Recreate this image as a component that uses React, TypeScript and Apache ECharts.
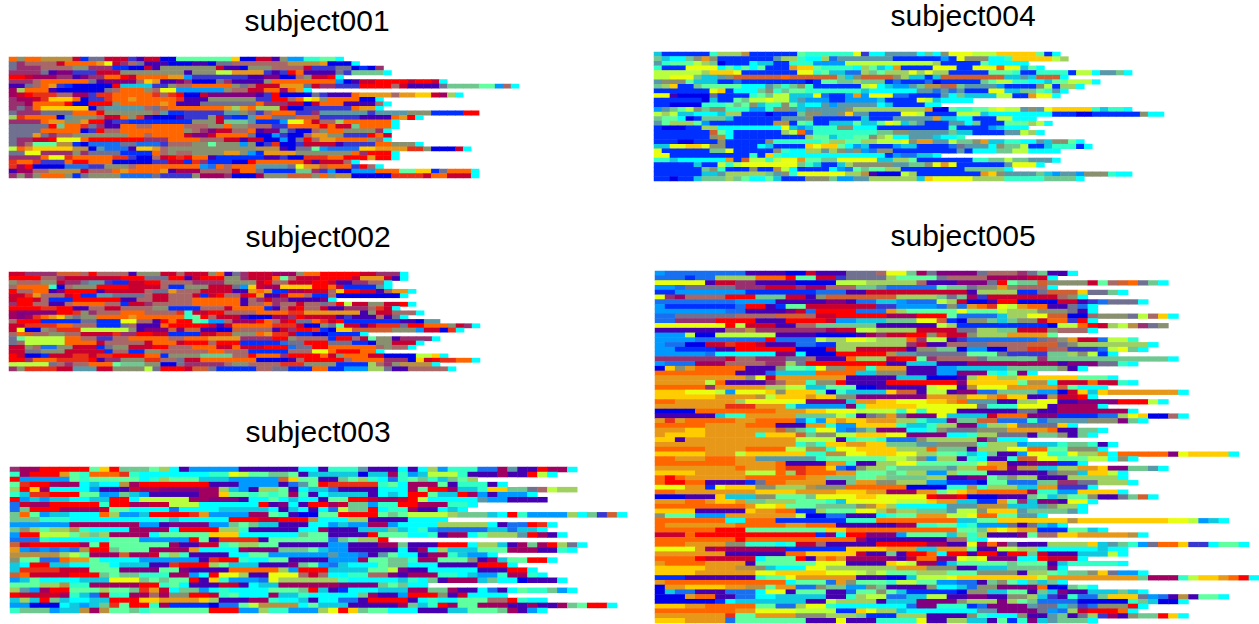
import React, { useEffect, useRef } from "react";
import * as echarts from "echarts";

const colorKeys = "bBpvmMcrRoOagylLntCsSkGxhTeEi";
const colorValues = [
  "#0030ff", "#0000e8", "#4400b0", "#800080", "#983070", "#a00060", "#c80030", "#ff0000", "#e83018",
  "#ff6600", "#d06030", "#e89818", "#ffcc00", "#e8ff10", "#b8ff40", "#a0d060", "#60ffa0", "#30ffc8",
  "#00ffff", "#0099ff", "#1870f0", "#10c8e0", "#889070", "#707090", "#a86868", "#b89040", "#5898a8",
  "#70c890", "#3838d0",
];

const subject001 = [
  "oGooTTTTcb xxcccipccB BnnnnnnngB BccpGssttn nC",
  "xmhhhhcooo oaycmhxppp BBBppBxxhh hhhhhTTTTa BBBC",
  "xmmmhhhhGG mmmbbBBcpG GGGGGGcppB GGGhhhhcii ixxBbBm",
  "mmmmxpvvii icccGGGGGG GGpGGGllaa aaipiropp ppxiEC",
  "rrcMMMmmpv mmoorcoooo aasiiiiiii ppvvBBhGccrC",
  "mmmhoooooo xpvvvvhgap pvmBBBxmpp ppGooooooo osBpccrrrr crrcC",
  "ppxhoaibBB BBBrkkkkii GhhoooooGx hcccaaaxcm miiirrrrhc ppppxEEEEn nshC",
  "MLooopBBBB BBxhoooGhy yssssssGhh ccooMoaC",
  "McrRRRhhMM iRRoooooRh RrBBcvvvvv vpirBBBBxi pppoaaaaha aggcMLC",
  "mMMcRgggoB iiRooaoooo oRpppGGGGG GiirrhoygG ooooBBC",
  "mmMoooorBB rrrGoooooa opppxxxxxx xommmccBco oopppphC",
  "mxmogggggg BxeeeeehxO oooooooaLa oLLLcBBiii iiioaaC",
  "xmmmxxxxoo orGGGGGGhe bbiiiiieeG xihoooiime eeeeeieeee GGGbbbbrr",
  "LRooooBeGG GhccoGRpBB BpiiiGcibb eooxxxOOOi iiiippppoa rC",
  "mmmmoaaGGa rrpiibbbbb bbbGGGcEEE ebbbsyyoch hLoooooorC",
  "xxxxxrEooR xmppoohhoo oohhhGGoGG hhhiioooor occEooooC",
  "xxxxoooooB irhhoooooo ooGhmvcchh opvveiBBhG ooGGGGmC",
  "xxxaxmhhGG GGGGGoohoo oocvvcoooo xBBsiBBhaa GGiiiroc",
  "xmmccryyyo rrrrrrrmmm oooohhhccp ccBBsBxrha aooooGhC",
  "xmhnnnTTbB SSSSxxSSSi hhhGGnGGGs GBiRBBiccc cpiiiiooGG GC",
  "loagggggTT BeSSSpggah GGGGGGGGGG GTTTpBxxns SSSSggaaaa RRGBBBcC",
  "xxyymmmmGm xxxxbbbboh GhhGGGGaaG sbaaaaGGGG GGGomrrrC",
  "mmmmoyyRoo oooRRiBBhc rRroopbbbb bbppiBBRRR oorrrarrC",
  "RooRiiiorr oooBBBBBii ccbRmbbbBB roooooocpc cchC",
  "RMrBBBBSSS iiGGGhoooo oooosSohoo oeeeexyaaO oooirhC",
  "pMMhhTTTTc hhhoaooooa pMMMhhhhco oxbbbbEEmi sBBsssooon nggbxoooC",
  "mGmGoooGbx GGGGSSSSxi iiiGMMMmBB BMGGGOOOGo GTTBBBBBRR RRcoocccC",
];
const lengths001 = [42,44,47,48,42,55,64,38,57,47,48,47,59,52,49,49,48,48,48,52,58,49,49,44,47,59,59];

const subject002 = [
  "ccmmmmOOOh rhhhhpGGGc chcccGopxm cccMMMGoor rrrrccmmmC",
  "rrrrhhmccc ccccrrrxxx rrpcrrrGGm ccconhcccr rrrcaaacpC",
  "GhhhGGcmmx eeibbccrrh hhhmmmmGGG Gcrhhcccrr cppmmhhC",
  "hooootBhGG Grrrrcccch bbGGGcccxs gcMMggggrr ocbbbbeC",
  "rhhoopvrrr rpccccchxx ahhhccccpp aoabbMMccc hgrrccphaa C",
  "ccRahhhcrb beexxxxhcc hhhcbcrhhc rappcoohbb hBBBBBBBBC",
  "crrchbbbrr rrrrpphhcc hhhoooooop hmcmmppppv C",
  "mrrhhpphoo oohhbccmhh hhhoooooop hhomhhchhx hrlccGGccr C",
  "rrrrRRrrpp hhcchhhhGG bbbbhhhcoo oobphcrhhc ppmmmhRcC",
  "MvvvvvrrRG mhhhooohhh hRtccrrhhh hooooRRaaa aaaapGcchh hC",
  "MvMRoagGxG Gooooaoooo ootnrhcccp BBBMMmrccc cpippphpxC",
  "hrrrbbbbbx xbbbyyhhpr orrntsshMM MrohcrxxoR crbbbbbbbp pBee",
  "ccRRRRoohh hbbbxhpppo rrrrrcpcoo oooRRRcBBG xnccpcRRRx rroooGcmC",
  "cyBBGhRRRl lllllGpvvv OvOOppBBOh hhhpcmrrRb BggOOOOOGG GsccBRbrC",
  "hoOhhGGhhc cccRmmrrcc bbbbccRRGG GoaRRcbbBB bbbbC",
  "xnlllllooh hiihhooooo hhoooaaaam mmmrrGhhhh brrhcnGGpmC",
  "xhlllllooo ochhhhhcoo ocrrrhrrrb bbbbSxxrrr xxxbbBGGcC",
  "ccGhSSGGcc cbxGGcccrr hhhoooccoc ccrrrSxxrr oooooohGhh C",
  "ccxxGGGccc ccbhhbbGGh hhhhhoohhh bbbbbhhhyy orrrooooCC",
  "rcBBbcccRR cRRrrrroob GGGGEEEEhh rooomrrrro cGoooccBBB BllggC",
  "rrmoooRRRR rpmmGGGRRh hxccoooooo oBBBBphrrr rrhoooommm BgcrRRoC",
  "lllllxhmhh ooonEEEGGB BxmmmmmhGG hhhhRRRGGG GbbbbLhmGT C",
  "mGRRRRccee eccGGGGlxr rrcOOxbbbb bhhxxbbboo bbsssLLxpp hhhC",
];
const lengths002 = [50,50,48,48,51,50,41,51,49,52,50,54,59,57,45,54,52,51,47,55,59,54,56];

const subject003 = [
  "mMMrrrrrng rEEEnLCpss sssppppppC CptttepppC pCLstttSSM epprMMC",
  "tMrrrantoo oRtCCCCCCC ttylnnEEnp kkkkkBkkMt skllltpppM pprlC",
  "rsssssntnn nnnCtLnnnk kksssssOgn nppEnLtCSt nEtkEnL",
  "nRrrMMMCkC CTMrrrrrrr pppsssspSe nrRRRRRtnC MMMnptttpC",
  "LrgMCCCCsp ppcMMvvvvM MLkspLLnpC kkSppppCCC MnrrMkktgg EExhlLL",
  "tkRRrrrnns sEkspppppM MgnntntnMt pCkkkkpCkC rrnkkrMsps ssC",
  "rskskkCCkk rrClllllMM vvvpCCnCkC CpnnrrcMMc rlCCCCCess pppp",
  "ScMMrrrrrt rrMMcclllC CCCCCrpvCp rrMcEEsttr rMMMttC",
  "SErrrMMMMc nnCCCCSCCC CkkkkkCpkC pCSlEErCtt MppCkC",
  "EonskkCCCo LsskrrrrRa ssssMMntpB BnnrrrrnEn llllLEEEkC rtssssLCEi OC",
  "EEEtttCCCC CCCCCtkCCC CCrrrccrrr TCCCLLpppp CCCC",
  "ssssssMMMM MMMsspvvvv ssEnEkkppp CCskssMMsC CCCLLLLLCp SSrRC",
  "EGLnLLTtCC CCMMMMCrrr rLLtpppppC CMpppkkkEk CtsSSSSSkk SkkC",
  "srrlllnLEL MMMMCnnnnn gggCCCCCCE nnpppprnnn CCtpMMCnLL LerMpC",
  "SSStCCCCCC nnnsssssrn pRRRRpnnnn nnSEnLLr",
  "OcrrrrrMnr nnnnnnMppc ctnLLnnppp ppsspppMME ppprrrCLLk pMEMrLxC",
  "asSsSsSTrr EnnnMMMMaC CCCMvvvEEE nksspppppC pMCLkkknnn MMMpptC",
  "TTTTTLlnMM MOMMcnLtpp ppCCnnssss ssessSpenC CpMMtkssC",
  "GnnSSoaanC CCCssssssp RrrtCCnnpp ppsssMnnEE tMMnnnGpMk nnrrC",
  "kCrrkkCCnn CkkkppRrrr LnkkkpppvE nsSkCCCnEE CCCpppprrr C",
  "kRRRRcccnn nvvvvnnvpp ppoooooLsr rrkkkknnlv ppCCCCCppp rrC",
  "OoccccrrrE nEEtttMMsC ryyLppyyyh chCCtthhvp MMMttCksst MMtC",
  "sknCCCCkkk yyyEnEnnrp gtsssSyLLL LLLtCCCCCk tCEpMMMkEC CBpC",
  "nnnLLTttMM MMMrrtnCpp pccpCkkMMM MMMvvvvEnE CrC",
  "LesMrrnnnL nnERacCEEs CtCCCCnnnE rkpbCCCkkk MMEEMppCSp CnttEsC",
  "rccccMtkSc ttMMhMGGrr ctnCCCMkkt CCCCCEMpps rrrGpcCCCC",
  "kLkrEkCCkk rrrggaaaag LpppMMtCCk pCCSSprrrr pCtCCnnnhh rtCC",
  "ssBBBCkskE RnrrtMbbbb BSSnlTTTTC nkkkpppppM EktrMnnMMM ppMppMEnrC",
  "tEEEskkTMT nnEtnnnnnn rrrssLttss sLyrgEnnCC CpppkknnnE MpspMnrrnC",
];
const lengths003 = [57,55,47,50,57,53,54,47,46,62,44,55,54,56,38,58,57,49,55,51,53,54,56,42,57,50,54,61,54];

const subject004 = [
  "kbbbbbbtLL LTbbbbbbnt tttttyiCCe eeeCECGyyy lllgggggnb C",
  "EkCCEGaGbb bbbbbeLLtC CLSeeeeeee bbbbbbsbyG GGCCtggggg lL",
  "etnnnlLEBb bbCkkbbttt ssssllllll lllllLbbbb bnCCCCC",
  "tbbbyyyyCn CnCnbbbagg nttttCLnkC abbbbyyybb yyyoyyknC",
  "llllllLggg ybbbbbbbyy tnkkSSLEnL LLyLyLLbbb bbnnntbbtt ttbllCeeEC",
  "llyyyEkkeG OOOOOOoOOO OOOEkGOOOO GLkkbkOOOO OOOOkkekOO OC",
  "eGGGnkkkbb SbbbbbbbbB bnnEELEEEb SbbbSBbbbb bEnllttCCk nnlllC",
  "ELgbbEnnnn nCCCeEtEGt bbbbbblyCk sseETThOEe eeesbbbbGl bLLC",
  "bbbbbbbygb CCCEGtEnnt ttttttkCCC CCCeeSeSeb bbyykkEEnt eC",
  "yypBBBBxbb bbtnEllkkk ySbbsasyyy SSbbbbeCEk kkkllbbayy C",
  "bbbbbbBkbb nEllyllkes ssbbsssskb bbbylkCCCC",
  "bbBBBBtttn EnGkttGnkC CeseeeeeCk bbbbCC",
  "seEnlGEGGt ttsstGGeke eeeeGLLLLL LLLLaBBntt nnlylleGey gggggtkttC",
  "lLlkkCCCkL LbbbBbbbEG GeeGgeebbb byylbbbbll lkCCCCCCCC bbbBBbbbbb bGCC",
  "EnnCBbEEEk bbbbbbeeeG bbbbbbkbbb eeeeeakkCC bbbllCCC",
  "enLLLnsbbb bbbbbTTbnt bbkkknkkny lkEebbbeeC EbbbnnnLlC",
  "bBBBbbLLCC CCCCCCyksk tttGGCCCbb bbbbbbbtbb bbskCCC",
  "bbbbbbbOnC bbbbbbLloS ttttttttEE GGeeeeeEkk bbbbeelLC",
  "bbbbbbbGTC bbbbbbbbbL nnkttnnGLl CCeeekCCsk nnnEEEnnt",
  "bbbBBbbbGb bbbbGttttt tnLLnnLLll lyGaaeelEE GakkttCCek GGnC",
  "kkyyggyGGb bbbCkbbbbg yggnCskbbb skkbbbbSxe eeCGEElbbk tttbLyC",
  "ybbbbbbEEy bbbbbGtCCL LeLGeGsSGG bbbbbbbbeb CCCEEllCCC eeeC",
  "yybbbbbbbb bbtbgtCCCC CCCCCCCCCb sSSkkC",
  "ttkCCCCCCa bOlltlyyan nEEyyyyykk LLnbbbbbbb ttEElEEeee eC",
  "bbbbbkbblt lyyyyyyyEt kbbkLGGGGG eeEEGyaybb bbbbeyC",
  "bbbbbbEGtb bbGbbTlCbb bbCsSnEnnL LbbbbbbbbE EEEEEC",
  "bbbbbbkkeL LLLLEeGtyy yyyyLLTpBB BlLbbbbbbb bagGeeeeEk seesGGGtCC",
  "bbBbbkEEEL EnCCnkbbbG GGEsseeLLL LLLkgyyyyy LLLLtttttE EEEtC",
];
const lengths004 = [51,52,47,49,60,52,56,54,52,51,40,36,60,64,48,50,47,49,39,54,55,51,36,51,49,45,60,54];

const subject005 = [
  "sSSSSSSSSp pppBBcpppx xxhyyEMxvv vvxhhhmxEp pC",
  "SSSbSSLLLL ooornnccix xxxLnnnnxh hhhMMMMccC",
  "yyyyypccmm ppppBBBBll lLLLLLhppp vvvxrnEEOG GGGcnhOoxE C",
  "ssSxxxxxmm mcccmMMhhh EEeSSSSSnE ExGGaGhhhC",
  "bbsssssssb bbbbbbSSSp pccccccccc cpLLLLbbxO OOgxxEC",
  "ymMhhhhrrr EEEccpGOOO OOOOLLLLEx EMiccccccc hGC",
  "SSSSSSSSss sspppppvvp SSkksSSSlL cBBprrBBBB ccpiSxxxC",
  "sbbbbbbbSr rpbnnccccc cciissssSG SaoRylaoop pxSC",
  "sssssssSSp pppvcSrrrr SSSaLnnnnn ynnnlLLLGG GxpC",
  "SSxxxxxxhh hhOOOhccrr rrrMMMrrrn SSSSkLLyyO OBBhGGGxlh gC",
  "SSmmmmrrrr ppprrrrcss kkkEEEyyOb BGGEkEGGco oirrC",
  "yyyyyyyrlc ccpphhEEEE EEpppppplL bbbbbbbbbB llorcLlTmx G",
  "ppppppphhT mmmmmmmMcc llLLLLcccc xxLLEEcccG hhhhhMSsC",
  "ssslBBllll llppppBBBB pMmccrrGRc cGLLLaaaaa cccBBLLlln",
  "ssssSSSSSS SrSSSSlLLy ylLLLomllp iSSSSSSSxh GaccSlt",
  "sSSBBccRrr cpppSSbbLL LLLLLmcpph hxxhhhhOOO xGLC",
  "ssbbbbpprr rrrrBBBcLL cccccpGGEE BssBBhhRRh hiiiSlyEC",
  "sssssSCCCC CCvvCBBBrr rrrTeexxxx xnnnxiiiiE ELGlbiC",
  "mmmmmmmchh mmmxxhpppo LLLcrrnmhh hhxEEEEEmE EC",
  "sSSSMMMhhh hmmLxrrrrr rrrppkkkpp pMMMMMMMMM pvvvxxtC",
  "BgGaooooop ppGnntyGGo otaaapppss kkkkkEEEEE GpEtC",
  "oooooooopp pSkkkkoooo kkGGGpppss vvvtCnvvvv kSpppppaRC",
  "aaaaaaaaaG ycaaaaaaap ppppkkkBBB pLggLLgggg ggnnntCC",
  "aaaaaloppp pmhaatGGrp ppprrrrrrr vgggggnTTC cccoccttC",
  "ooooomaaaa aLLllkknnn BBppppplyyp TyyyaaaaaO nCC",
  "gggyyylsyy ygGgggnBtk kkkgOOpllp vvSSEEEEss BcgkgaC",
  "ggggggaaaa TlgggaggGG vvvvvvvaaa TggaoggppT ccrrrgC",
  "ooaaaaaaLy yyyyyvvvvk aaggyyygga oeeeppLLyy ppvvvvrrrl LC",
  "aaaaaaaRRR aaatsssssv tgggggyyyy yyxtttyyyp MMMMMMMMvv MkpLiiC",
  "BBBBoooooo ooaaaggyyy lllltytyyy ppppppxxpp MMMMMMMLLl iiC",
  "ppppppktta aaaaEEEEln pxGaxvvvyk kkkcooovvv bbbbSSLygB BhkC",
  "aRaoooooaa ooooSCsgag gaaaLLtkkv EEOOSSStSe eeeGGGvEEE LC",
  "oooooaaaao oopppaatss ggggtkktLL vvkLLgxxxx ggGGGtyC",
  "aaaggaaaaa aaOGEtyysS eEvvvCCtGx xxGGGaaaao ppEC",
  "aggggaaaaa tgggOEGGll gggyyvvvvC CtLLxxxpEE GpEC",
  "ggpaaaaaaa aaaallllpt nntSSSGLLL LLvxCCktee EEEELpC",
  "aaaaaaaaaa aaaatEtgga aggEEEeeGG GGtLLLskkk tEEtpppnEE EC",
  "oooooaaaao ooollTTtyy ggggLLLoEE EpLLLyyoon nGGGtC",
  "gggggaaalg gggggttTTy ygggyyLLnn tkCEppsyyt tyLLaCoooo ovyggggtC",
  "ooaaaoooaa eeeeeetnnn nnnllLGsLL ptCpptOOyy nnnllCGGnp C",
  "ooooooooaa aaoppppaat ppLLyynnnn nnlaappvvv bbtCLCbtCC C",
  "aaaaaaaaoa aaoRRoogSb GLLnEEEEEe LLooavTTkk LLaagvvEEe sspppC",
  "ggggaaaaal lloLRoooaa nnnEnLLssL nnnppppppx GGkgglppck GOpkkC",
  "oroaaaaaao oooooaaEEE nnLEEEELLp pvvnEGLLpp pLLLLLLEEE nsxC",
  "orrooppppb xooaaaappE aaGGLLLssb bbBnnSSSEE mmxxLLLLEE C",
  "yyyaabyggg GGLLLTGGGo oooooBBBBt tTtLLLkkaa iiiSpkkC",
  "ooaaaaaaaa ggggaaaagg gaaMMMaanl gaoooooMtt ssggggtaCC",
  "BBBpppgkkk GGnnnEyyyy ggyyyyyrcc rBBBpppEnk EnnGppxEOO alyyyiC",
  "aaaooaggaE ELLLnnntky yyyylllgaa kkbbanmkvv pyyyyynnnp tC",
  "oooooooooa yygnnnEEEE GTgLCCCCCe eeTTTkkkeG LLLLsskSrg nC",
  "ggggpppppg aaoobbLnnn yyLTLLEEEe llGgggeEEE EeeLskgsC",
  "Gnnnsssaaa aaaalBBSSp ppCtnnaaal lyoonneeGG eeaaEGLLLL lLkC",
  "oooooooCCo oobbbbbbbt ttoooooooo kknngggggg gTgggggggg gyylskEaaa C",
  "oaaaaaaaoo oooaaooopp ppppMMttnn CtsssxpxksC",
  "oooooorrrn nnnnnnnggo oooooooooo nnEgygaabb bnnkpC",
  "cccorrrrrr rrrrrrbvCr rvvvsnnnnk LtLpppvnhh ggaaaaaTTx TkkkkkkLnC",
  "ooooooooro oooooooooo Mpppppppph htaaGggaC",
  "oooaaaaGGt ttCtcchppp pprrrrrMMp pyMoMxpppL LLLgkeEtsx oogiiCnC",
  "yyyyaMcMMM MMMbbbbbbg gggaaakkaa anppllLLCC CCCCkCCaaa aaaaggyC",
  "aaaaaaappp pppooggggg cppEprroCr rprrprrEcp ppkkkllkkC",
  "oooorccccc CnnnrpaoaM MMMvpcoovv ylyvvvCCrc cccrrrrOOO yylC",
  "aooooaaaap nnnnnnyyyp pppgylMMbk nnnnnEnnnp ktttttEEnp MMpC",
  "gggggaaaTT GkCCCyyLLL LLLLaaaGGG ppkkkEEEEv MpOgggpnpO aaaC",
  "ggggaaaaaa yygggggyyy lLlnnnLLLn nnGGGGpLLn tEEGgxsssi iirraaagTC",
  "bbbppppppp tnnyaaaaaa pppBBkllly ggggggggla aaaaaaaaEM MMtlggaorC",
  "aooooooooo oooCnnnSaG nnntllnnss SSpEGnCEkE ExtvxxEkcaC",
  "BaaggggaaT TnaaSSGEEs sGEppppGCC kSGGvvvvoB BEnnkC",
  "BkSSpppSSS CyypnnnppS nnGnkbbbbb BGGkknnpEk vppkkkEkpT TrnkC",
  "BBBaooppSS CCkkkkkppt LllSSkkllp pvvppGGLki ptSSEgggxs SpTpnC",
  "BBBBBBbCkk kkkkkpplLL LLpkkkvvvv GLLLvLnESS SSBBBBBtEk BBBBCC",
  "gggaaooooo nnSSLyytCC CCCCCSvvtt tbSvvvvexx keiSGGGrrr CC",
  "ooooooooaa yyyyllllbb gyLLkCCCCC CCeevvvvxs SLcrrroopp BBC",
  "aaaaaaaRnn aaaaGGGLLL EbbbLLLppp pGtCCCGppe EpxLiMpGEE rgkppC",
  "gggaaaaSnn nnnnnpppyp ppttttyppL Lkkpnbtvke EEEEnLbpxM EtnC",
];
const lengths005 = [
  42,40,51,40,47,43,49,44,44,52,44,51,44,40,48,50,49,46,52,48,43,38,46,48,45,53,44,51,45,48,53,49,42,45,44,37,46,45,
  58,48,43,51,47,47,48,44,47,50,44,43,43,39,57,41,45,49,33,59,47,47,43,47,41,49,60,41,44,49,57,53,49,48,53,44,
];

const columnCounts = [64, 59, 62, 64, 60];
const titles = ["subject001", "subject002", "subject003", "subject004", "subject005"];
const rowSets = [subject001, subject002, subject003, subject004, subject005];
const lengthSets = [lengths001, lengths002, lengths003, lengths004, lengths005];
const boxes = [
  { x: 9, y: 57, w: 510, h: 121, cx: 317, ty: 20 },
  { x: 9, y: 272, w: 471, h: 99, cx: 318, ty: 236 },
  { x: 10, y: 467, w: 617, h: 146, cx: 318, ty: 431 },
  { x: 654, y: 52, w: 510, h: 129, cx: 963, ty: 15 },
  { x: 655, y: 271, w: 604, h: 352, cx: 963, ty: 235 },
];

function fitRow(row: string, n: number) {
  const s = row.replace(/ /g, "");
  const tail = s[s.length - 1];
  let body = s.slice(0, -1).slice(0, n - 1);
  while (body.length < n - 1) body += body[body.length - 1];
  return body + tail;
}

function cells(rows: string[], lens: number[]) {
  const out: number[][] = [];
  rows.forEach((row, r) => {
    const s = fitRow(row, lens[r]);
    for (let c = 0; c < s.length; c++) out.push([c, r, Math.max(colorKeys.indexOf(s[c]), 0)]);
  });
  return out;
}

export default function App() {
  const ref = useRef<HTMLDivElement>(null);
  useEffect(() => {
    document.body.style.margin = "0";
    const chart = echarts.init(ref.current!, undefined, { renderer: "svg" });
    chart.setOption({
      animation: false,
      backgroundColor: "#ffffff",
      title: titles.map((t, i) => ({
        text: t,
        left: boxes[i].cx,
        top: boxes[i].ty,
        padding: 0,
        textAlign: "center",
        textVerticalAlign: "middle",
        textStyle: { fontSize: 30, fontWeight: "normal", color: "#000", fontFamily: "Liberation Sans" },
      })),
      grid: boxes.map((b) => ({ left: b.x, top: b.y, width: b.w, height: b.h })),
      xAxis: titles.map((_, i) => ({
        type: "category",
        gridIndex: i,
        show: false,
        data: Array.from({ length: columnCounts[i] }, (_, k) => String(k)),
      })),
      yAxis: titles.map((_, i) => ({
        type: "category",
        gridIndex: i,
        show: false,
        inverse: true,
        data: rowSets[i].map((_, k) => String(k)),
      })),
      visualMap: {
        type: "piecewise",
        show: false,
        dimension: 2,
        seriesIndex: [0, 1, 2, 3, 4],
        pieces: colorValues.map((color, i) => ({ value: i, color })),
      },
      series: titles.map((t, i) => ({
        type: "heatmap",
        name: t,
        xAxisIndex: i,
        yAxisIndex: i,
        progressive: 0,
        silent: true,
        data: cells(rowSets[i], lengthSets[i]),
      })),
    });
    return () => chart.dispose();
  }, []);
  return <div ref={ref} style={{ width: 1259, height: 624 }} />;
}
